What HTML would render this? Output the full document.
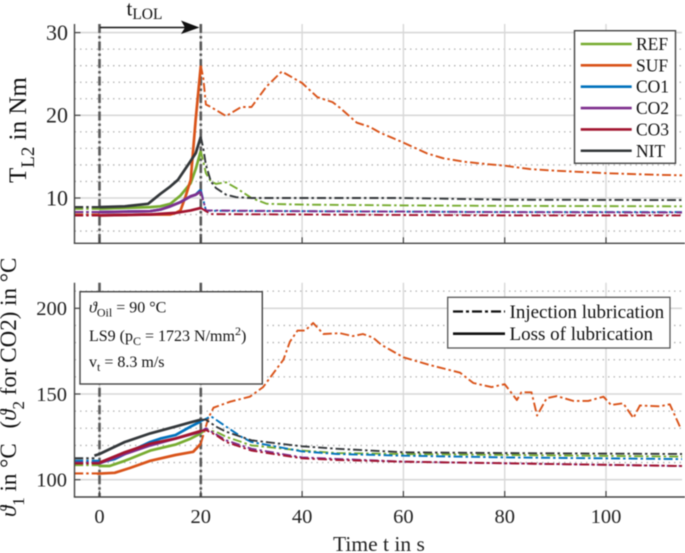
<!DOCTYPE html>
<html>
<head>
<meta charset="utf-8">
<style>
html,body{margin:0;padding:0;background:#fff;width:685px;height:553px;overflow:hidden}
svg{display:block;font-family:"Liberation Serif",serif;filter:blur(0.45px)}
</style>
</head>
<body>
<svg id="chart" width="685" height="553" viewBox="0 0 685 553" xmlns="http://www.w3.org/2000/svg"></svg>
<script>
const xTicks = [0, 20, 40, 60, 80, 100];
const topYTicks = [10, 20, 30];
const topYMinor = [6, 8, 12, 14, 16, 18, 22, 24, 26, 28];
const botYTicks = [100, 150, 200];
const botYMinor = [110, 120, 130, 140, 160, 170, 180, 190, 210];

const seriesNames = ['REF', 'SUF', 'CO1', 'CO2', 'CO3', 'NIT'];
const seriesColors = ['#77ac30', '#d95319', '#0072bd', '#7e2f8e', '#a2142f', '#33373a'];

// Torque: time and values, loss of lubrication (0..20 s)
const torqueLolTimes = [
  [0, 10, 12, 14, 16, 18, 19, 20],
  [0, 10, 14, 15, 16, 17, 18, 19, 20],
  [0, 10, 12, 14, 16, 18, 19, 20],
  [0, 10, 12, 14, 16, 18, 19, 20],
  [0, 10, 15, 18, 20],
  [0, 5, 9.6, 12, 14, 15.5, 17.9, 19, 20]
];
const torqueLolValues = [
  [8.7, 8.9, 9.0, 9.3, 10.3, 11.8, 13.5, 15.7],
  [7.9, 8.0, 8.0, 8.2, 8.5, 10.2, 12.2, 19.5, 26.0],
  [8.3, 8.4, 8.6, 9.0, 9.5, 10.2, 10.4, 11.0],
  [8.3, 8.4, 8.6, 9.0, 9.5, 10.2, 10.4, 10.8],
  [7.9, 8.0, 8.2, 8.5, 8.8],
  [8.9, 9.0, 9.3, 10.5, 11.4, 12.2, 14.4, 15.4, 17.4]
];
// Torque: injection lubrication (before 0 and after 20 s)
const torquePreValues = [8.7, 8.0, 8.3, 8.3, 7.9, 8.9];
const torqueInjTimes = [
  [20, 21, 22, 23, 25, 27, 30, 33, 40, 60, 80, 115],
  [20, 20.5, 21, 22, 25, 28, 30, 33, 36, 40, 43, 46, 47.5, 50.8, 53.4, 55.4, 60, 64.6, 67.9, 71.8, 76.4, 80, 85, 90, 100, 110, 115],
  [20, 21, 22, 40, 60, 80, 115],
  [20, 21, 22, 40, 60, 80, 115],
  [20, 21, 22, 40, 60, 80, 115],
  [20, 20.5, 21, 22, 23, 25, 27, 30, 60, 80, 115]
];
const torqueInjValues = [
  [15.7, 13, 12, 11.7, 11.9, 11.2, 10, 9.3, 9.2, 9.1, 9.05, 9],
  [26, 24.5, 21.3, 21, 19.9, 21, 21, 23.5, 25.3, 23.9, 22.2, 21.6, 20.9, 19.1, 18.6, 17.9, 16.7, 15.4, 14.8, 14.4, 14.1, 13.9, 13.5, 13.3, 13, 12.8, 12.75],
  [11, 8.5, 8.45, 8.4, 8.35, 8.3, 8.3],
  [10.8, 8.5, 8.5, 8.4, 8.35, 8.3, 8.25],
  [8.8, 8.4, 8.05, 8.0, 7.95, 7.9, 7.9],
  [17.4, 16, 14, 12, 11.2, 10.4, 10.1, 10, 10, 9.8, 9.75]
];

// Temperature: loss of lubrication
const tempLolTimes = [
  [0, 2, 5, 10, 15, 18, 20],
  [-0.5, 3, 6, 10, 15, 18.5, 20],
  [0, 3, 5, 10, 12, 15, 18, 20],
  [0, 5, 10, 15, 20],
  [0, 5, 10, 15, 20],
  [-1, 0, 5, 10, 15, 18, 20]
];
const tempLolValues = [
  [108, 108, 111, 117, 120.5, 124, 127],
  [103.5, 104, 106.8, 111, 114.4, 116.3, 121],
  [110, 112, 115, 122, 124, 126, 131, 134],
  [109.5, 115, 120, 124, 128],
  [110, 116, 121, 124, 128.5],
  [114, 115, 122, 127, 131, 133.5, 135]
];
const tempPreValues = [108.5, 103.7, 111, 110, 109.5, 112.5];
const tempInjTimes = [
  [20, 21, 23, 25, 30, 40, 47, 60, 115],
  [20, 21.5, 22.5, 25.8, 29.7, 32.3, 36.3, 37.6, 39.1, 40.6, 42.2, 44.2, 47.5, 50, 52, 54, 55.7, 60, 65.2, 71.2, 73.8, 77.4, 80, 82.4, 83.3, 85.3, 86.4, 88.3, 90.3, 93.5, 96.5, 99.5, 101, 103.4, 105.4, 106.7, 110.7, 112.6, 114.6],
  [20, 22, 25, 28, 30, 40, 47, 60, 80, 115],
  [20, 21, 25, 30, 40, 60, 115],
  [20, 21, 23, 25, 30, 40, 47, 60, 115],
  [20, 21, 23, 25, 30, 40, 47, 60, 80, 115]
];
const tempInjValues = [
  [127, 129, 128, 125, 120, 117, 115.5, 115, 113.5],
  [121, 136, 142, 145.5, 148.4, 154, 170, 180.5, 187, 187, 191.4, 185, 185.5, 183.8, 185, 182.9, 178.6, 171.4, 166.9, 162.4, 156.4, 154, 155.7, 146.5, 151, 151, 137.4, 147.6, 148.8, 146, 146, 148.4, 143.6, 144.6, 136, 143.3, 142.8, 144, 131],
  [134, 137, 131, 125, 122, 116.5, 115, 114, 113, 112],
  [128, 130, 123, 118, 113, 110.5, 108],
  [128.5, 129, 126, 122, 117, 112.5, 111.5, 110.5, 108],
  [135, 135, 131, 128, 123, 119.5, 118, 116, 115.5, 115]
];

const NS = 'http://www.w3.org/2000/svg';
const svg = document.getElementById('chart');
function add(tag, attrs, parent) {
  const el = document.createElementNS(NS, tag);
  for (const k in attrs) el.setAttribute(k, attrs[k]);
  (parent || svg).appendChild(el);
  return el;
}
const sx = t => 99.5 + t * 5.065;
const sxL = 74.5, sxR = 682;
const topY = v => 198 - (v - 10) * 8.27;
const botY = v => 479.7 - (v - 100) * 1.714;
const panels = [
  {name:'torque', y:topY, t:24, b:243.3, major:topYTicks, minor:topYMinor, tickSize:22, tx:68},
  {name:'temperature', y:botY, t:282.7, b:497, major:botYTicks, minor:botYMinor, tickSize:20.5, tx:67}
];

function line(x1, y1, x2, y2, stroke, w, dash) {
  const el = add('line', {x1:x1, y1:y1, x2:x2, y2:y2, stroke:stroke, 'stroke-width':w});
  if (dash) el.setAttribute('stroke-dasharray', dash);
  return el;
}
function path(ts, vs, yf, color, w, dash) {
  const pts = ts.map((t, i) => sx(t).toFixed(1) + ',' + yf(vs[i]).toFixed(1)).join(' ');
  const el = add('polyline', {points:pts, fill:'none', stroke:color, 'stroke-width':w, 'stroke-linejoin':'round'});
  if (dash) el.setAttribute('stroke-dasharray', dash);
  return el;
}

panels.forEach(p => {
  p.minor.forEach(v => {
    const g = line(sxL, p.y(v), sxR, p.y(v), '#b4b4b4', 1.3, '1.5 4');
    
    
  });
  p.major.forEach(v => {
    const g = line(sxL, p.y(v), sxR, p.y(v), '#d8d8d8', 1.6);
    
    
  });
  xTicks.forEach(t => {
    const g = line(sx(t), p.t, sx(t), p.b, '#d8d8d8', 1.4);
    
    
  });
  [0, 20].forEach(t => {
    const g = line(sx(t), p.t, sx(t), p.b, '#5a5a5a', 2.6, '9 3 2.5 3');
    
    
  });
});

function drawSeries(p, pre, lolT, lolV, injT, injV) {
  seriesNames.forEach((n, i) => {
    const a = path([-5, lolT[i][0]], [pre[i], pre[i]], p.y, seriesColors[i], 2.1, '9 3 2.5 3');
    
    
    const b = path(injT[i], injV[i], p.y, seriesColors[i], 1.9, '9 3 2.5 3');
    
    
  });
  seriesNames.forEach((n, i) => {
    const c = path(lolT[i], lolV[i], p.y, seriesColors[i], 2.7);
    
    
  });
}
drawSeries(panels[0], torquePreValues, torqueLolTimes, torqueLolValues, torqueInjTimes, torqueInjValues);
drawSeries(panels[1], tempPreValues, tempLolTimes, tempLolValues, tempInjTimes, tempInjValues);

panels.forEach(p => {
  const ya = line(sxL, p.t, sxL, p.b, '#444', 1.4);
  
  
  const xa = line(sxL - 0.7, p.b, sxR + 3, p.b, '#444', 1.4);
  
  
  xTicks.forEach(t => {
    const k = line(sx(t), p.b, sx(t), p.b - 6, '#444', 1.2);
    
    
  });
  p.major.forEach(v => {
    const k = line(sxL, p.y(v), sxL + 6, p.y(v), '#444', 1.2);
    
    
    const tl = add('text', {x:p.tx, y:p.y(v) + p.tickSize * 0.33, 'text-anchor':'end', 'font-size':p.tickSize, fill:'#222'});
    tl.textContent = v;
    
    
  });
});
xTicks.forEach(t => {
  const tl = add('text', {x:sx(t), y:523, 'text-anchor':'middle', 'font-size':20.5, fill:'#222'});
  tl.textContent = t;
  
  
});

// Legend of series
const legendBox = add('rect', {x:574.5, y:30.7, width:101, height:132.6, fill:'#fff', stroke:'#444', 'stroke-width':1.4});


seriesNames.forEach((n, i) => {
  const ly = 44 + i * 21.35;
  const s = line(580.7, ly, 631.7, ly, seriesColors[i], 2.6);
  
  
  const t = add('text', {x:636, y:ly + 6, 'font-size':17.5, fill:'#111'});
  t.textContent = n;
  
  
});
</script>
<script>
// Static annotations
(function(){
  const holder = document.createElementNS('http://www.w3.org/2000/svg','g');
  holder.innerHTML = `
  <g>
    <rect x="447.7" y="297.3" width="222.3" height="50.7" fill="#fff" stroke="#555" stroke-width="1.3"/>
    <line x1="453" y1="311.5" x2="505" y2="311.5" stroke="#111" stroke-width="2.2" stroke-dasharray="10 3 3 3"/>
    <line x1="453" y1="333.7" x2="505" y2="333.7" stroke="#111" stroke-width="2.6"/>
    <text x="509.5" y="318" font-size="19" fill="#111">Injection lubrication</text>
    <text x="509.5" y="340" font-size="19" fill="#111">Loss of lubrication</text>
  </g>
  <g>
    <rect x="80" y="291.7" width="182.3" height="92.3" fill="#fff" stroke="#444" stroke-width="1.4"/>
    <text x="89" y="312.5" font-size="16" fill="#111"><tspan font-style="italic">ϑ</tspan><tspan font-size="12" dy="4">Oil</tspan><tspan dy="-4"> = 90 °C</tspan></text>
    <text x="89" y="341" font-size="16" fill="#111">LS9 (p<tspan font-size="12" dy="4">C</tspan><tspan dy="-4"> = 1723 N/mm</tspan><tspan font-size="12" dy="-6">2</tspan><tspan dy="6">)</tspan></text>
    <text x="89" y="367" font-size="16" fill="#111">v<tspan font-size="12" dy="4">t</tspan><tspan dy="-4"> = 8.3 m/s</tspan></text>
  </g>
  <g>
    <line x1="100" y1="27.5" x2="186" y2="27.5" stroke="#111" stroke-width="1.5"/>
    <polygon points="181,20.5 199.5,27.5 181,34 185,27.5" fill="#111"/>
    <text x="126.5" y="15.5" font-size="21" fill="#111">t<tspan font-size="15.5" dy="3.5">LOL</tspan></text>
  </g>
  <text transform="translate(26,183) rotate(-90)" font-size="25" fill="#111">T<tspan font-size="19" dy="8">L2</tspan><tspan dy="-8"> in Nm</tspan></text>
  <text transform="translate(16,517) rotate(-90)" font-size="23" fill="#111"><tspan font-style="italic">ϑ</tspan><tspan font-size="17" dy="8">1</tspan><tspan dy="-8" xml:space="preserve"> in °C </tspan><tspan dx="9">(</tspan><tspan font-style="italic">ϑ</tspan><tspan font-size="17" dy="8">2</tspan><tspan dy="-8"> for CO2) in °C</tspan></text>
  <text x="333" y="551" font-size="21.5" fill="#222">Time t in s</text>`;
  
  
  document.getElementById('chart').appendChild(holder);
})();
</script>
</body>
</html>
